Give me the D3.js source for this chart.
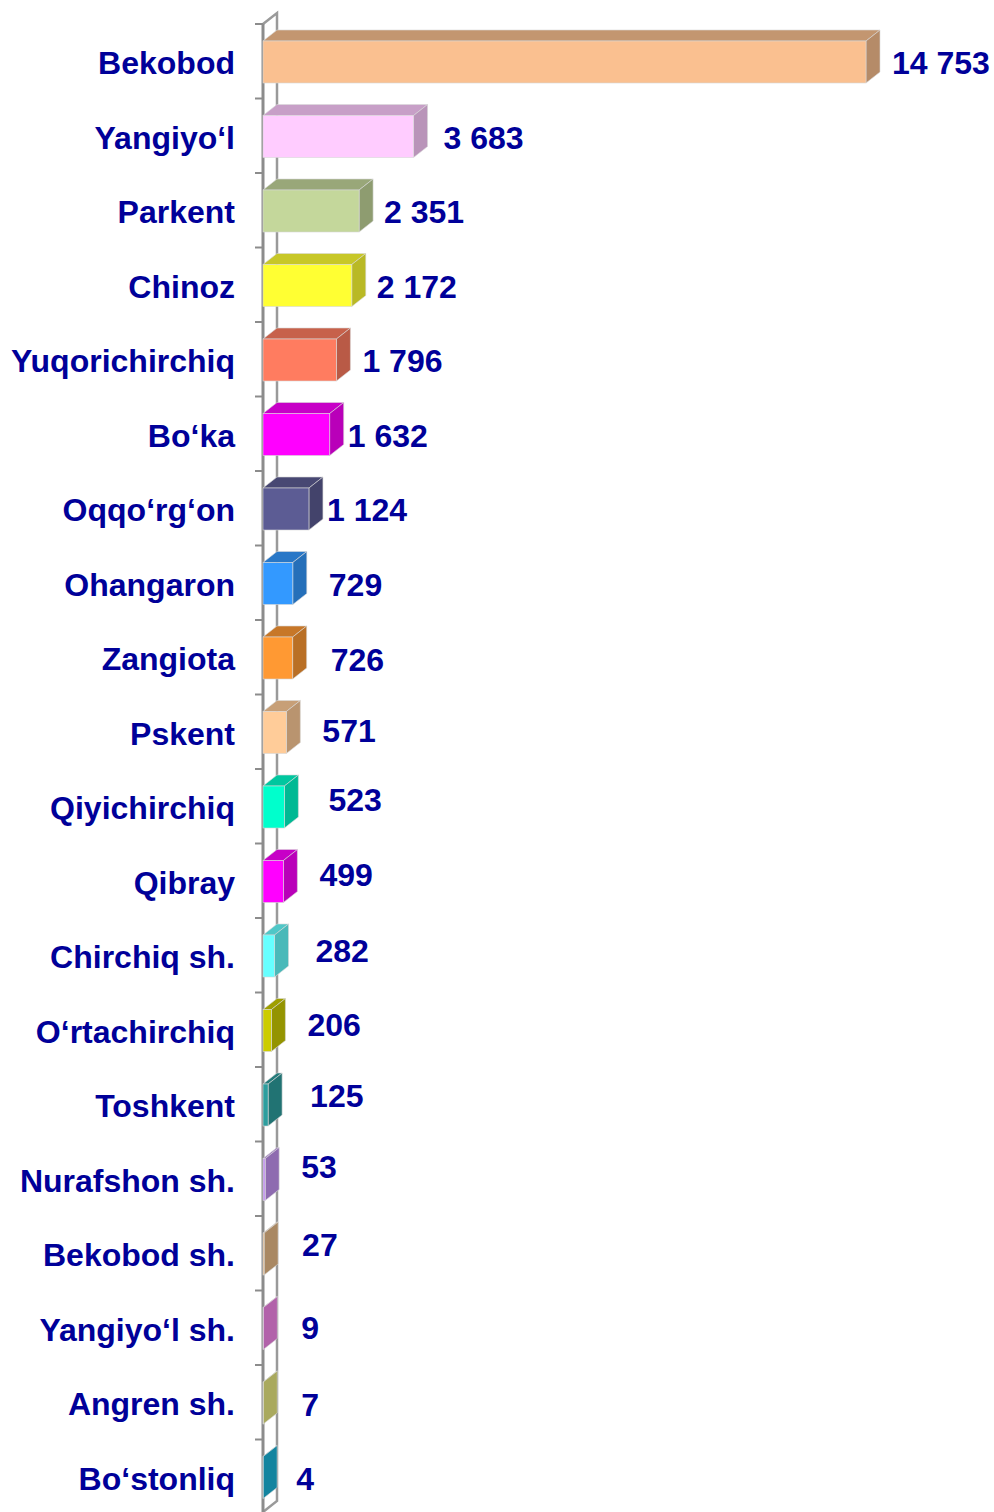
<!DOCTYPE html>
<html>
<head>
<meta charset="utf-8">
<script src="https://cdn.jsdelivr.net/npm/d3@7"></script>
<style>
  body { margin: 0; background: #ffffff; }
  text { font-family: "Liberation Sans", Arial, sans-serif; font-weight: bold; }
</style>
</head>
<body>
<script>
var categories = ["Bekobod", "Yangiyo\u2018l", "Parkent", "Chinoz", "Yuqorichirchiq", "Bo\u2018ka",
  "Oqqo\u2018rg\u2018on", "Ohangaron", "Zangiota", "Pskent", "Qiyichirchiq", "Qibray",
  "Chirchiq sh.", "O\u2018rtachirchiq", "Toshkent", "Nurafshon sh.", "Bekobod sh.",
  "Yangiyo\u2018l sh.", "Angren sh.", "Bo\u2018stonliq"];
var values = [14753, 3683, 2351, 2172, 1796, 1632, 1124, 729, 726, 571, 523, 499,
  282, 206, 125, 53, 27, 9, 7, 4];
var colors = ["#fac090", "#ffccff", "#c4d79b", "#ffff33", "#ff7c60", "#ff00ff",
  "#5c5c94", "#3399ff", "#ff9933", "#ffcc99", "#00ffcc", "#ff00ff",
  "#66ffff", "#cccc00", "#2e9e9e", "#c494f2", "#e9bb89", "#f687eb", "#e9e982", "#1ab6db"];
// manual nudges of the value labels, as placed in the original
var labelDx = [0, 4, -1, -1, 0, -8, -8, 10, 12, 10, 18, 10, 15, 10, 16, 10, 12, 12, 12, 7];
var labelDy = [0, 0, 0, 0, 0, 0, 0, 0, 1, -3, -8, -8, -6, -7, -10, -14, -10, -2, 1, 0];

var width = 994;
var height = 1512;
var depthX = 14;
var depthY = -11;

var svg = d3.select("body")
  .append("svg")
  .attr("width", width)
  .attr("height", height);

var x = d3.scaleLinear()
  .domain([0, d3.max(values)])
  .range([263, 866]);
var y = d3.scaleBand()
  .domain(categories)
  .range([24, 1514]);

var rows = categories.map(function (c, i) {
  return { name: c, value: values[i], color: colors[i], dx: labelDx[i], dy: labelDy[i] };
});

var x0 = x(0);
var axisTop = y.range()[0];
var axisBottom = y.range()[1] - 2;

// back wall
svg.append("path")
  .attr("d", "M" + x0 + "," + axisTop + "L" + (x0 + depthX) + "," + (axisTop + depthY) +
    "L" + (x0 + depthX) + "," + (axisBottom + depthY) + "L" + x0 + "," + axisBottom)
  .attr("fill", "none")
  .attr("stroke", "#9a9a9a")
  .attr("stroke-width", 2.5);

// ticks at category boundaries
var ticks = categories.map(function (c) { return y(c); });
svg.selectAll("line.tick")
  .data(ticks)
  .enter()
  .append("line")
  .classed("tick", true)
  .attr("x1", x0 - 8)
  .attr("x2", x0)
  .attr("y1", function (d) { return d; })
  .attr("y2", function (d) { return d; })
  .attr("stroke", "#8c8c8c")
  .attr("stroke-width", 2);

svg.append("line")
  .attr("x1", x0)
  .attr("x2", x0)
  .attr("y1", axisTop)
  .attr("y2", height)
  .attr("stroke", "#8c8c8c")
  .attr("stroke-width", 3);

var barTop = 17;
var barH = 42;
var bars = svg.selectAll("g.bar")
  .data(rows)
  .enter()
  .append("g")
  .classed("bar", true);

// top face
bars.append("path")
  .attr("d", function (d) {
    var y0 = y(d.name) + barTop;
    var x1 = x(d.value);
    return "M" + x0 + "," + y0 + "L" + (x0 + depthX) + "," + (y0 + depthY) +
      "L" + (x1 + depthX) + "," + (y0 + depthY) + "L" + x1 + "," + y0 + "Z";
  })
  .attr("fill", function (d) { return d3.color(d.color).darker(0.7); })
  .attr("stroke", "#d8d8d8")
  .attr("stroke-width", 0.6);

// side face
bars.append("path")
  .attr("d", function (d) {
    var y0 = y(d.name) + barTop;
    var x1 = x(d.value);
    return "M" + x1 + "," + y0 + "L" + (x1 + depthX) + "," + (y0 + depthY) +
      "L" + (x1 + depthX) + "," + (y0 + barH + depthY) + "L" + x1 + "," + (y0 + barH) + "Z";
  })
  .attr("fill", function (d) { return d3.color(d.color).darker(0.9); })
  .attr("stroke", "#d8d8d8")
  .attr("stroke-width", 0.6);

// front face
bars.append("rect")
  .attr("x", x0)
  .attr("y", function (d) { return y(d.name) + barTop; })
  .attr("width", function (d) { return x(d.value) - x0; })
  .attr("height", barH)
  .attr("fill", function (d) { return d.color; })
  .attr("stroke", "#d8d8d8")
  .attr("stroke-width", 0.6);

svg.selectAll("text.cat")
  .data(rows)
  .enter()
  .append("text")
  .classed("cat", true)
  .attr("x", 235)
  .attr("y", function (d) { return y(d.name) + y.bandwidth() / 2 + 2; })
  .attr("dominant-baseline", "central")
  .attr("text-anchor", "end")
  .attr("font-size", 32)
  .attr("fill", "#000099")
  .text(function (d) { return d.name; });

var fmt = d3.format(",");
svg.selectAll("text.val")
  .data(rows)
  .enter()
  .append("text")
  .classed("val", true)
  .attr("x", function (d) { return x(d.value) + depthX + 12 + d.dx; })
  .attr("y", function (d) { return y(d.name) + y.bandwidth() / 2 + 2 + d.dy; })
  .attr("dominant-baseline", "central")
  .attr("font-size", 32)
  .attr("fill", "#000099")
  .text(function (d) { return fmt(d.value).replace(/,/g, " "); });
</script>
</body>
</html>
